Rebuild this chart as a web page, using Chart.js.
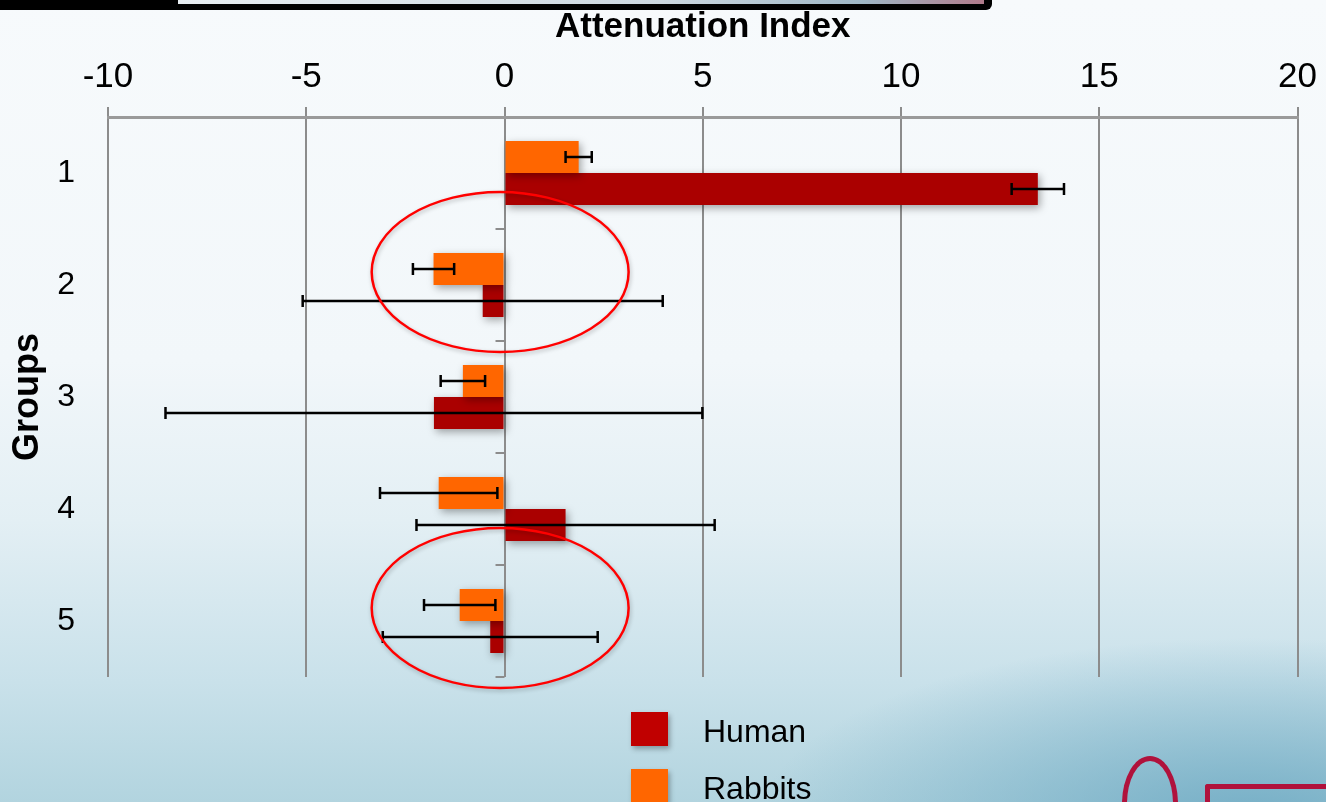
<!DOCTYPE html>
<html>
<head>
<meta charset="utf-8">
<title>Attenuation Index</title>
<script src="https://cdn.jsdelivr.net/npm/chart.js@4.4.1/dist/chart.umd.min.js"></script>
<style>
html, body { margin: 0; padding: 0; }
body {
    width: 1326px; height: 802px; overflow: hidden; position: relative;
    font-family: "Liberation Sans", Arial, sans-serif;
    background:
        radial-gradient(ellipse 700px 260px at 1250px 820px, rgba(110,170,195,0.9), rgba(110,170,195,0) 70%),
        linear-gradient(to bottom, #f7fafc 0%, #f2f7fa 45%, #e3eff4 65%, #c9e1ea 85%, #b2d4df 100%);
}
#topbar { position: absolute; left: 0; top: 0; width: 992px; height: 10px; background: #000; border-bottom-right-radius: 6px; }
#topbar div { position: absolute; left: 178px; top: 0; width: 806px; height: 4px; background: linear-gradient(to right, #e8eef2, #cdd8e0 60%, #9fb7c6 85%, #b07a8a); }
#wrap { position: absolute; left: 0; top: 0; width: 1326px; height: 802px; }
#legend { position: absolute; left: 631px; top: 712px; }
.item { position: relative; height: 57px; }
.item span.box { position: absolute; left: 0; top: 0; width: 37px; height: 34px; box-shadow: 2px 3px 5px rgba(0,0,0,0.3); }
.item span.txt { position: absolute; left: 72px; top: -1px; font-size: 32px; color: #000; white-space: nowrap; line-height: 40px; }
#logo { position: absolute; left: 1205px; top: 784px; width: 140px; height: 40px; border: 5px solid #b0123c; border-right: none; border-radius: 3px 0 0 0; }
#logo2 { position: absolute; left: 1122px; top: 756px; width: 46px; height: 90px; border: 5px solid #b0123c; border-radius: 50% 50% 0 0; border-bottom: none; }
</style>
</head>
<body>
<div id="topbar"><div></div></div>
<div id="logo2"></div>
<div id="logo"></div>
<div id="wrap"><canvas id="chart" width="1326" height="802"></canvas></div>
<div id="legend"></div>
<script>
// data
var groups = ['1', '2', '3', '4', '5'];
var rabbits = [1.87, -1.79, -1.05, -1.66, -1.13];
var rabbitsErr = [0.33, 0.52, 0.56, 1.48, 0.90];
var human = [13.45, -0.55, -1.78, 1.54, -0.36];
var humanErr = [0.66, 4.54, 6.77, 3.76, 2.71];
var xMin = -10, xMax = 20, xStep = 5;
var circled = [1, 4]; // groups 2 and 5 are ringed in red

var extras = {
    id: 'extras',
    beforeDatasetsDraw: function (chart) {
        var ctx = chart.ctx;
        ctx.save();
        ctx.shadowColor = 'rgba(0,0,0,0.35)';
        ctx.shadowBlur = 8;
        ctx.shadowOffsetX = 2;
        ctx.shadowOffsetY = 3;
    },
    afterDatasetsDraw: function (chart) {
        var ctx = chart.ctx;
        ctx.restore();
        var x = chart.scales.x, y = chart.scales.y;
        var band = y.height / groups.length;

        // small ticks on the zero line
        var x0 = x.getPixelForValue(0);
        ctx.save();
        ctx.strokeStyle = '#8c8c8c';
        ctx.lineWidth = 2;
        for (var i = 1; i <= groups.length; i++) {
            var yy = y.top + band * i;
            ctx.beginPath();
            ctx.moveTo(x0 - 9, yy);
            ctx.lineTo(x0, yy);
            ctx.stroke();
        }
        ctx.restore();

        // error bars
        ctx.save();
        ctx.strokeStyle = '#000';
        ctx.lineWidth = 2.5;
        chart.data.datasets.forEach(function (ds, d) {
            var meta = chart.getDatasetMeta(d);
            meta.data.forEach(function (bar, j) {
                var v = ds.data[j], e = ds.err[j];
                var a = x.getPixelForValue(v - e), b = x.getPixelForValue(v + e);
                var cy = bar.y;
                ctx.beginPath();
                ctx.moveTo(a, cy); ctx.lineTo(b, cy);
                ctx.moveTo(a, cy - 6); ctx.lineTo(a, cy + 6);
                ctx.moveTo(b, cy - 6); ctx.lineTo(b, cy + 6);
                ctx.stroke();
            });
        });
        ctx.restore();

        // red rings
        ctx.save();
        ctx.strokeStyle = '#ff0000';
        ctx.lineWidth = 2.5;
        ctx.shadowColor = 'rgba(0,0,0,0.25)';
        ctx.shadowBlur = 4;
        ctx.shadowOffsetX = 1;
        ctx.shadowOffsetY = 2;
        circled.forEach(function (g) {
            var cx = x.getPixelForValue(-0.11);
            var rx = x.getPixelForValue(3.13) - cx;
            var cy = y.getPixelForValue(g) - 0.116 * band;
            var ry = 0.714 * band;
            ctx.beginPath();
            ctx.ellipse(cx, cy, rx, ry, 0, 0, Math.PI * 2);
            ctx.stroke();
        });
        ctx.restore();
    }
};

var ctx = document.getElementById('chart').getContext('2d');
var chart = new Chart(ctx, {
    type: 'bar',
    data: {
        labels: groups,
        datasets: [{
            label: 'Rabbits',
            data: rabbits,
            err: rabbitsErr,
            backgroundColor: '#ff6600',
            legendColor: '#ff6600'
        }, {
            label: 'Human',
            data: human,
            err: humanErr,
            backgroundColor: '#aa0000',
            legendColor: '#c00000'
        }]
    },
    plugins: [extras],
    options: {
        responsive: false,
        animation: false,
        indexAxis: 'y',
        categoryPercentage: 0.57,
        barPercentage: 1.0,
        layout: { padding: { left: 0, right: 28, top: 0, bottom: 125 } },
        plugins: {
            legend: { display: false },
            tooltip: { enabled: false }
        },
        scales: {
            x: {
                position: 'top',
                min: xMin,
                max: xMax,
                ticks: {
                    stepSize: xStep,
                    color: '#000',
                    padding: 9,
                    font: { family: '"Liberation Sans", Arial, sans-serif', size: 35 }
                },
                grid: { color: '#8c8c8c', lineWidth: 2, tickLength: 10 },
                border: { color: '#9a9a9a', width: 3 },
                title: {
                    display: true,
                    text: 'Attenuation Index',
                    color: '#000',
                    padding: { top: 6, bottom: 0 },
                    font: { family: '"Liberation Sans", Arial, sans-serif', size: 35, weight: 'bold' }
                },
                afterFit: function (s) { s.height = 117; }
            },
            y: {
                ticks: {
                    color: '#000',
                    padding: 33,
                    font: { family: '"Liberation Sans", Arial, sans-serif', size: 32 }
                },
                grid: { display: false, drawTicks: false },
                border: { display: false },
                title: {
                    display: true,
                    text: 'Groups',
                    color: '#000',
                    padding: { top: 6, bottom: 0 },
                    font: { family: '"Liberation Sans", Arial, sans-serif', size: 36, weight: 'bold' }
                },
                afterFit: function (s) { s.width = 108; }
            }
        }
    }
});

// legend, Human listed first
var legend = document.getElementById('legend');
chart.data.datasets.slice().reverse().forEach(function (ds) {
    var item = document.createElement('div');
    item.className = 'item';
    item.innerHTML = '<span class="box" style="background:' + ds.legendColor + '"></span><span class="txt">' + ds.label + '</span>';
    legend.appendChild(item);
});
</script>
</body>
</html>
